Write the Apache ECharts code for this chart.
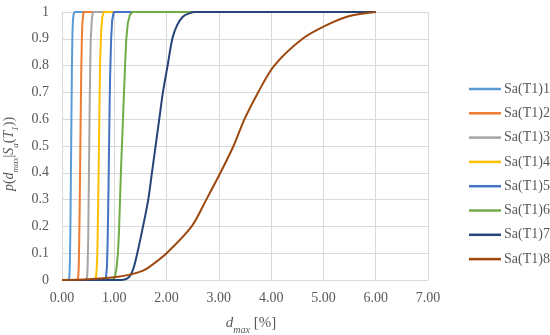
<!DOCTYPE html>
<html>
<head>
<meta charset="utf-8">
<script src="https://cdn.jsdelivr.net/npm/echarts@6/dist/echarts.min.js"></script>
<style>html,body{margin:0;padding:0;background:#fff;}#c{width:550px;height:335px;}</style>
</head>
<body>
<div id="c"></div>
<script>
var seriesNames = ['Sa(T1)1','Sa(T1)2','Sa(T1)3','Sa(T1)4','Sa(T1)5','Sa(T1)6','Sa(T1)7','Sa(T1)8'];
var colors = ['#5B9BD5','#ED7D31','#A5A5A5','#FFC000','#4472C4','#70AD47','#264478','#9E480E'];
var xTicks = [0,1,2,3,4,5,6,7];
var yTicks = [0,0.1,0.2,0.3,0.4,0.5,0.6,0.7,0.8,0.9,1];

var s1X = [0, 0.12, 0.14, 0.15, 0.16, 0.17, 0.18, 0.19, 0.20, 0.21, 0.22, 0.24, 6];
var s1P = [0, 0, 0.01, 0.06, 0.18, 0.38, 0.6, 0.8, 0.92, 0.97, 0.99, 1, 1];
var s2X = [0, 0.29, 0.31, 0.32, 0.33, 0.34, 0.35, 0.36, 0.37, 0.38, 0.39, 0.41, 6];
var s2P = [0, 0, 0.01, 0.05, 0.15, 0.3, 0.48, 0.65, 0.8, 0.9, 0.96, 1, 1];
var s3X = [0, 0.46, 0.48, 0.49, 0.50, 0.51, 0.52, 0.53, 0.54, 0.55, 0.57, 0.59, 6];
var s3P = [0, 0, 0.01, 0.05, 0.14, 0.3, 0.48, 0.66, 0.8, 0.9, 0.97, 1, 1];
var s4X = [0, 0.62, 0.65, 0.67, 0.68, 0.69, 0.70, 0.71, 0.72, 0.73, 0.75, 0.77, 0.80, 6];
var s4P = [0, 0, 0.01, 0.06, 0.14, 0.26, 0.4, 0.55, 0.7, 0.82, 0.93, 0.98, 1, 1];
var s5X = [0, 0.81, 0.84, 0.86, 0.87, 0.88, 0.89, 0.90, 0.91, 0.92, 0.94, 0.96, 0.99, 6];
var s5P = [0, 0, 0.01, 0.05, 0.12, 0.22, 0.35, 0.5, 0.64, 0.76, 0.9, 0.97, 1, 1];
var s6X = [0, 0.97, 1.01, 1.04, 1.07, 1.09, 1.11, 1.13, 1.15, 1.17, 1.19, 1.21, 1.23, 1.26, 1.30, 1.35, 6];
var s6P = [0, 0, 0.01, 0.04, 0.1, 0.18, 0.3, 0.42, 0.52, 0.62, 0.72, 0.82, 0.9, 0.96, 0.99, 1, 1];
var s7X = [0, 1.15, 1.28, 1.36, 1.44, 1.55, 1.65, 1.72, 1.79, 1.86, 1.93, 2.02, 2.11, 2.2, 2.31, 2.43, 2.56, 6];
var s7P = [0, 0, 0.01, 0.04, 0.1, 0.2, 0.3, 0.4, 0.5, 0.6, 0.7, 0.8, 0.9, 0.95, 0.982, 0.995, 1, 1];
var s8X = [0, 0.5, 1.0, 1.3, 1.55, 1.68, 2.0, 2.48, 2.76, 3.03, 3.28, 3.49, 3.75, 4.06, 4.6, 5.05, 5.5, 6.0];
var s8P = [0, 0.003, 0.01, 0.02, 0.035, 0.05, 0.1, 0.2, 0.3, 0.4, 0.5, 0.6, 0.7, 0.8, 0.9, 0.95, 0.985, 1];

var allX = [s1X,s2X,s3X,s4X,s5X,s6X,s7X,s8X];
var allP = [s1P,s2P,s3P,s4P,s5P,s6P,s7P,s8P];

var font = 'Liberation Serif';
var txt = '#595959';
var grid = '#d9d9d9';

var series = seriesNames.map(function(n, i){
  return {
    name: n, type: 'line', symbol: 'none',
    smooth: i >= 6 ? 0.3 : false,
    lineStyle: {width: 2, color: colors[i]},
    itemStyle: {color: colors[i]},
    data: allX[i].map(function(x, k){ return [x, allP[i][k]]; })
  };
});

function rich(big, small){
  return {
    i: {fontFamily: font, fontStyle: 'italic', fontSize: big, color: txt, lineHeight: big + 3, verticalAlign: 'middle'},
    n: {fontFamily: font, fontSize: big, color: txt, lineHeight: big + 3, verticalAlign: 'middle'},
    s: {fontFamily: font, fontStyle: 'italic', fontSize: small, color: txt, lineHeight: small, verticalAlign: 'bottom', padding: [0,0,-3,0]}
  };
}

var chart = echarts.init(document.getElementById('c'), null, {renderer: 'canvas'});
chart.setOption({
  backgroundColor: '#fff',
  animation: false,
  color: colors,
  grid: {left: 62, right: 122, top: 12, bottom: 55, containLabel: false, outerBoundsMode: 'none'},
  legend: {
    orient: 'vertical', left: 464, top: 77,
    icon: 'rect', itemWidth: 32, itemHeight: 2.5, itemGap: 10.3,
    textStyle: {fontFamily: font, fontSize: 14, color: txt, lineHeight: 14, padding: [0,0,0,-2]},
    data: seriesNames
  },
  xAxis: {
    type: 'value', min: xTicks[0], max: xTicks[xTicks.length-1], interval: 1,
    axisLine: {show: true, lineStyle: {color: grid, width: 1}},
    axisTick: {show: false},
    splitLine: {show: true, lineStyle: {color: grid, width: 1}},
    axisLabel: {fontFamily: font, fontSize: 14, color: txt, margin: 11,
      formatter: function(v){ return v.toFixed(2); }},
    name: '{i|d}{s|max}{n| [%]}',
    nameLocation: 'middle', nameGap: 34,
    nameTextStyle: {rich: rich(15, 10), padding: [0,0,0,12]}
  },
  yAxis: {
    type: 'value', min: yTicks[0], max: yTicks[yTicks.length-1], interval: 0.1,
    axisLine: {show: false},
    axisTick: {show: false},
    splitLine: {show: true, lineStyle: {color: grid, width: 1}},
    axisLabel: {fontFamily: font, fontSize: 14, color: txt, margin: 13,
      formatter: function(v){ return String(Math.round(v*10)/10); }},
    name: '{i|p}{n|(}{i|d}{s|max}{n||}{i|S}{s|a}{n|(}{i|T}{s|1}{n|))}',
    nameLocation: 'middle', nameGap: 34,
    nameTextStyle: {rich: rich(14, 9), padding: [0,16,0,0]}
  },
  series: series
});
</script>
</body>
</html>
